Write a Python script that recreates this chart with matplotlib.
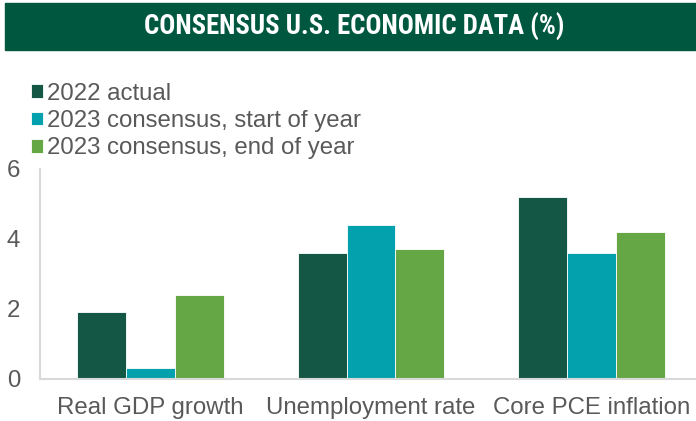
import numpy as np
import matplotlib.pyplot as plt
from matplotlib.patches import Rectangle

# Données (%)
categories = ["Real GDP growth", "Unemployment rate", "Core PCE inflation"]
series_names = ["2022 actual", "2023 consensus, start of year", "2023 consensus, end of year"]
actual_2022 = [1.9, 3.6, 5.2]
start_2023 = [0.3, 4.4, 3.6]
end_2023 = [2.4, 3.7, 4.2]
yticks = [0, 2, 4, 6]

colors = ["#135744", "#03A1AD", "#65A745"]
gray = "#595959"

plt.rcParams['font.family'] = ['Liberation Sans', 'DejaVu Sans']

fig = plt.figure(figsize=(6.96, 4.21), dpi=100)

# Bandeau titre
fig.patches.append(Rectangle((5 / 696, 1 - 50 / 421), 691 / 696, 47 / 421,
                             transform=fig.transFigure, color="#00573F", zorder=0))
fig.text(354 / 696, 1 - 27 / 421, "CONSENSUS U.S. ECONOMIC DATA (%)",
         ha="center", va="center", color="white", fontsize=19.2, fontweight="bold",
         family=['Roboto Condensed', 'Liberation Sans'])

ax = fig.add_axes([40 / 696, 42.5 / 421, 662 / 696, 210 / 421])
x = np.arange(len(categories))
w = 0.222
for i, vals in enumerate([actual_2022, start_2023, end_2023]):
    ax.bar(x + (i - 1) * w, vals, w, color=colors[i], edgecolor="white",
           linewidth=0.6, label=series_names[i])

ax.set_xlim(-0.5, 2.5)
ax.set_ylim(0, 6)
ax.set_yticks(yticks)
ax.set_xticks(x)
ax.set_xticklabels(categories)
ax.tick_params(length=0, labelsize=17.3, colors=gray)
ax.tick_params(axis="y", pad=24)
ax.tick_params(axis="x", pad=13)
for lbl in ax.get_yticklabels():
    lbl.set_ha("left")
for s in ["top", "right"]:
    ax.spines[s].set_visible(False)
for s in ["left", "bottom"]:
    ax.spines[s].set_color("#D9D9D9")
    ax.spines[s].set_linewidth(1.5)

leg = fig.legend(loc="upper left", bbox_to_anchor=(21 / 696, 1 - 73 / 421),
                 frameon=False, fontsize=17.3, handlelength=0.5, handleheight=0.5,
                 handletextpad=0.2, labelspacing=0.22, borderaxespad=0)
for t in leg.get_texts():
    t.set_color(gray)

plt.savefig("out.png", dpi=100)
